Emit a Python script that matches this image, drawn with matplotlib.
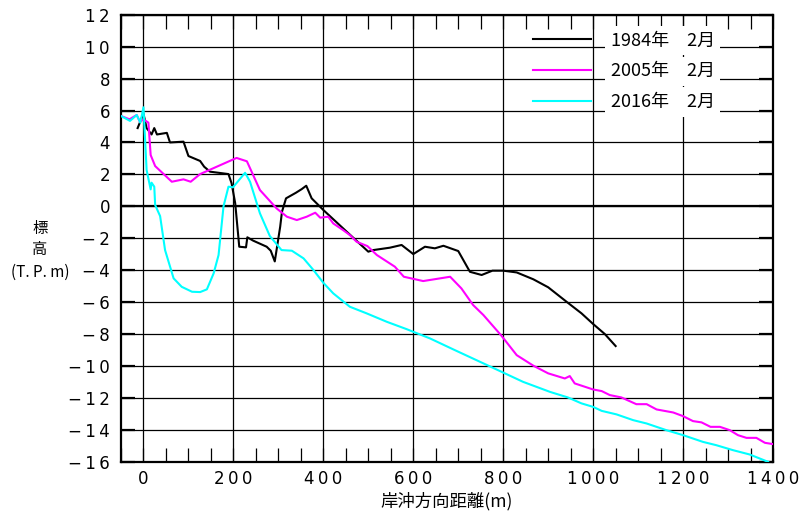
import matplotlib
matplotlib.use('Agg')
import matplotlib.pyplot as plt
from matplotlib.ticker import MultipleLocator, FuncFormatter

plt.rcParams['font.family'] = ['Noto Sans CJK JP', 'DejaVu Sans']

# 1984年2月
x84 = [-13, 0, 7, 18, 24, 30, 52, 59, 89, 100, 126, 135, 148, 189, 196, 204, 213, 228, 231, 244,
       274, 283, 292, 304, 308, 317, 339, 352, 362, 374, 400, 452, 500, 511, 548, 574, 600, 626,
       648, 667, 700, 726, 752, 776, 800, 830, 867, 900, 941, 974, 1000, 1026, 1050]
y84 = [4.9, 5.8, 4.9, 4.5, 4.9, 4.5, 4.6, 4.0, 4.05, 3.15, 2.84, 2.48, 2.17, 2.02, 1.44, 0.19,
       -2.53, -2.57, -1.94, -2.15, -2.53, -2.78, -3.45, -1.28, -0.34, 0.5, 0.85, 1.08, 1.29, 0.5,
       -0.23, -1.59, -2.84, -2.74, -2.59, -2.42, -2.99, -2.53, -2.63, -2.47, -2.8, -4.1, -4.3,
       -4.03, -4.03, -4.14, -4.57, -5.07, -5.98, -6.7, -7.37, -8.0, -8.75]

# 2005年2月
x05 = [-50, -31, -15, -8, 0, 11, 16, 26, 63, 89, 105, 126, 207, 230, 259, 296, 319, 341, 363, 382,
       393, 411, 422, 444, 459, 474, 498, 519, 559, 579, 622, 682, 707, 733, 756, 796, 830, 867,
       900, 937, 948, 959, 1000, 1019, 1037, 1063, 1096, 1119, 1141, 1178, 1200, 1222, 1241, 1261,
       1282, 1304, 1322, 1341, 1363, 1382, 1400]
y05 = [5.66, 5.45, 5.72, 5.3, 5.45, 5.24, 3.21, 2.52, 1.54, 1.69, 1.54, 2.02, 3.03, 2.82, 1.02,
       -0.13, -0.65, -0.86, -0.65, -0.4, -0.71, -0.65, -1.07, -1.49, -1.8, -2.22, -2.49, -3.05,
       -3.78, -4.41, -4.68, -4.41, -5.14, -6.18, -6.81, -8.1, -9.32, -9.98, -10.46, -10.78, -10.63,
       -11.09, -11.47, -11.57, -11.82, -11.97, -12.39, -12.39, -12.72, -12.91, -13.14, -13.45,
       -13.53, -13.81, -13.81, -14.02, -14.33, -14.5, -14.5, -14.81, -14.89]

# 2016年2月
x16 = [-50, -30, -15, -7, 0, 7, 16, 18, 24, 26, 37, 48, 67, 85, 108, 126, 141, 156, 167, 178, 189,
       199, 226, 237, 259, 281, 307, 330, 356, 378, 400, 422, 459, 496, 541, 585, 637, 689, 793,
       844, 904, 944, 974, 1000, 1019, 1052, 1089, 1119, 1163, 1200, 1244, 1274, 1311, 1348, 1389]
y16 = [5.66, 5.35, 5.72, 5.24, 6.2, 2.27, 1.06, 1.48, 1.23, 0.08, -0.61, -2.74, -4.51, -5.04,
       -5.35, -5.37, -5.2, -4.2, -3.05, 0, 1.23, 1.19, 2.1, 1.54, -0.44, -1.86, -2.74, -2.78,
       -3.26, -3.99, -4.79, -5.45, -6.29, -6.7, -7.23, -7.69, -8.27, -8.96, -10.32, -10.99,
       -11.62, -11.97, -12.34, -12.56, -12.81, -13.03, -13.39, -13.6, -14.02, -14.33, -14.75,
       -14.96, -15.27, -15.54, -16.0]

labels = ['1984年\u30002月', '2005年\u30002月', '2016年\u30002月']


def spaced(v, pos):
    # 目盛りの数字を一文字ずつ離して書く
    s = '\u2009'.join(str(abs(int(round(v)))))
    return ('\u2212\u2009' + s) if v < 0 else s


fig = plt.figure(figsize=(8.12, 5.16), dpi=100)
ax = fig.add_axes([0.149, 0.105, 0.803, 0.8665])

ax.plot(x84, y84, color='black', lw=1.5, label=labels[0], zorder=3)
ax.plot(x05, y05, color='#ff00ff', lw=1.5, label=labels[1], zorder=3)
ax.plot(x16, y16, color='#00ffff', lw=1.5, label=labels[2], zorder=3)

ax.set_xlim(-50, 1400)
ax.set_ylim(-16, 12)
ax.xaxis.set_major_locator(MultipleLocator(200))
ax.xaxis.set_minor_locator(MultipleLocator(50))
ax.yaxis.set_major_locator(MultipleLocator(2))
ax.xaxis.set_major_formatter(FuncFormatter(spaced))
ax.yaxis.set_major_formatter(FuncFormatter(spaced))

ax.grid(True, which='major', color='black', lw=0.9, zorder=1)
ax.axhline(0, color='black', lw=1.6, zorder=2)
ax.tick_params(axis='x', which='both', direction='in', top=True, bottom=True,
               length=10, width=0.9, labelsize=12, pad=6)
ax.tick_params(axis='y', which='major', direction='in', left=True, right=True,
               length=10, width=1.6, labelsize=12, pad=8)
for t in ax.get_xticklabels() + ax.get_yticklabels():
    t.set_family('DejaVu Sans')
for s in ax.spines.values():
    s.set_linewidth(1.6)

ax.set_xlabel('岸沖方向距離(m)', fontsize=12.5, labelpad=3)
fig.text(0.049, 0.558, '標', fontsize=11, ha='center', va='center')
fig.text(0.049, 0.516, '高', fontsize=11, ha='center', va='center')
fig.text(0.049, 0.473, '(T. P. m)', fontsize=11, ha='center', va='center')

leg = ax.legend(loc='upper left', bbox_to_anchor=(0.632, 0.962), frameon=False, fontsize=13,
                handlelength=3.2, handletextpad=1.1, labelspacing=0.7,
                borderpad=0, borderaxespad=0)
for t in leg.get_texts():
    t.set_bbox(dict(facecolor='white', edgecolor='none', pad=4))

fig.savefig('out.png', dpi=100)
